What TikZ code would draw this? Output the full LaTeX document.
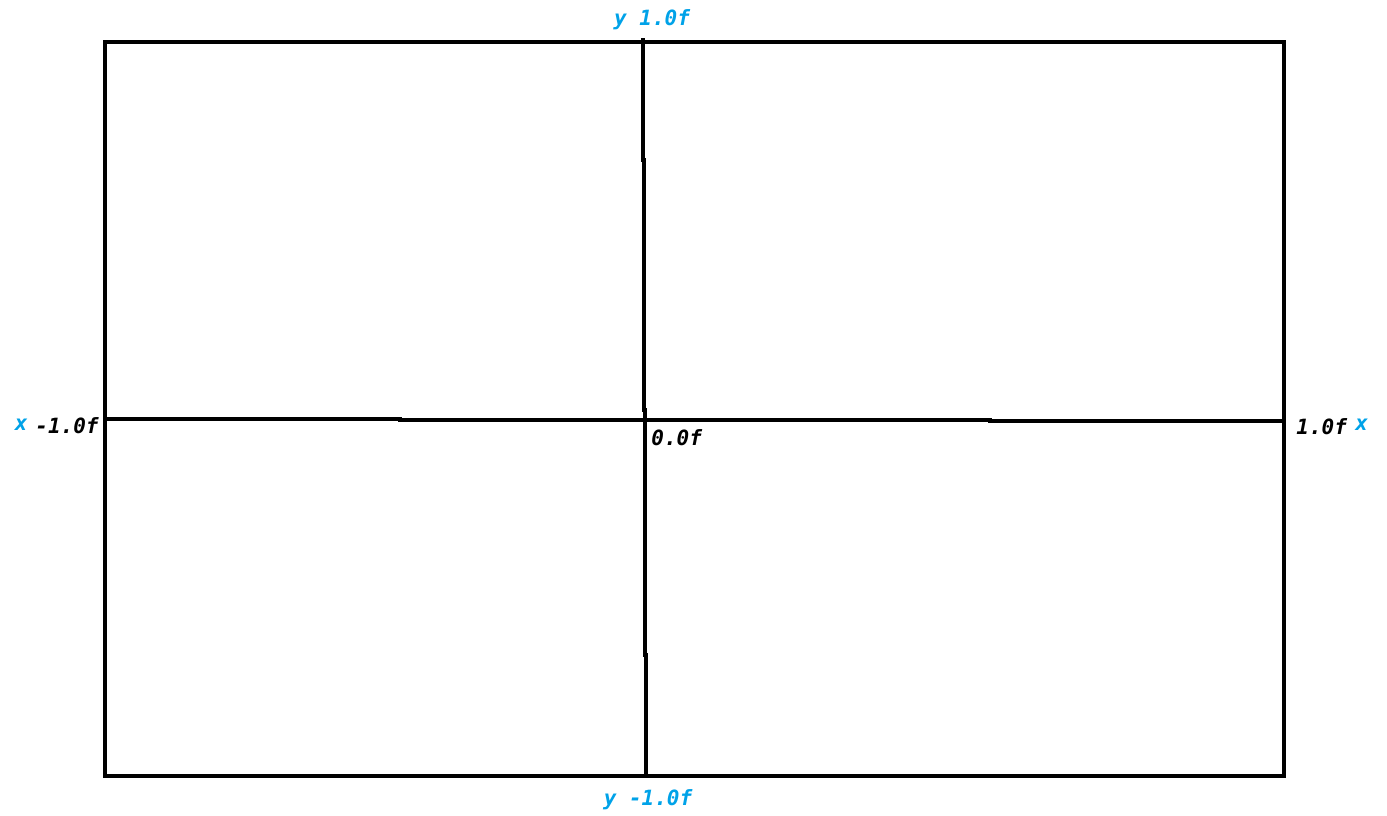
\documentclass[tikz,border=0pt]{standalone}
\usepackage{fontspec}
\setmonofont{DejaVu Sans Mono}
\usepackage{xcolor}
\definecolor{paintblue}{RGB}{0,162,232}
\tikzset{
  axlabel/.style={font=\ttfamily\bfseries\itshape\fontsize{10.5}{12}\selectfont, inner sep=0pt},
  blk/.style={line width=2.4pt}
}

\begin{document}
\begin{tikzpicture}[x=0.5pt,y=-0.5pt]
\useasboundingbox (0,0) rectangle (1387,815);
\coordinate (tl) at (105,42);
\coordinate (br) at (1284,776);
\coordinate (top) at (643,38);
\coordinate (bot) at (646,776);
\coordinate (lft) at (105,419);
\coordinate (rgt) at (1284,421);
\draw[blk] (tl) rectangle (br);
% the two axes, drawn by hand so they are a bit off
\draw[blk] (top)--(643,160)--(644,160)--(644,410)--(645,410)--(645,655)--(646,655)--(bot);
\draw[blk] (lft)--(400,419)--(400,420)--(990,420)--(990,421)--(rgt);
\node[axlabel,text=paintblue] at (652,20) (ytop){y 1.0f};
\node[axlabel,text=paintblue] at (648,800) (ybot){y -1.0f};
\node[axlabel,anchor=west] at (35,426) (xmin){-1.0f};
\node[axlabel,text=paintblue,anchor=east] at (28,425) (xl){x};
\node[axlabel,anchor=west] at (1296,427) (xmax){1.0f};
\node[axlabel,text=paintblue,anchor=west] at (1355,425) (xr){x};
\node[axlabel,anchor=west] at (651,438) (orig){0.0f};
\end{tikzpicture}
\end{document}
